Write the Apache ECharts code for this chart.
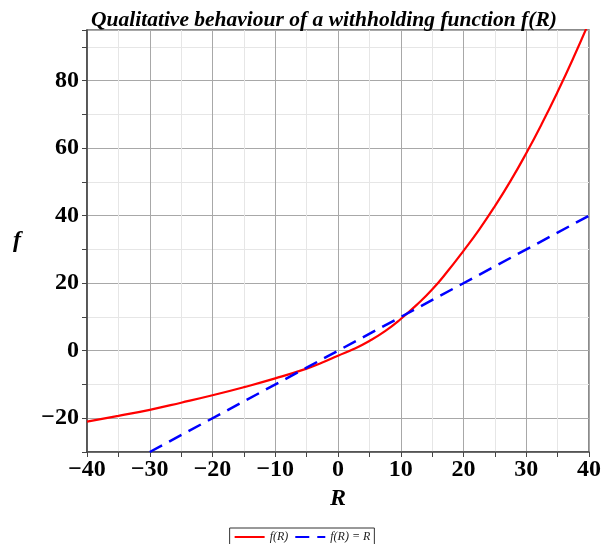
<!DOCTYPE html>
<html><head><meta charset="utf-8">
<script src="https://cdn.jsdelivr.net/npm/echarts@6/dist/echarts.min.js"></script>
<style>html,body{margin:0;padding:0;background:#fff}#c{width:604px;height:544px}</style>
</head><body><div id="c"></div>
<script>
var fR = [-40,-35,-30,-25,-20,-15,-10,-5,-2.5,0,2.5,5,7.5,10,12.5,15,17.5,20,22.5,25,27.5,30,32.5,35,37.5,40];
var fValues = [-21.0,-19.3,-17.5,-15.4,-13.2,-10.8,-8.2,-5.3,-3.5,-1.5,0.5,2.9,5.8,9.4,13.5,18.1,23.6,29.6,35.9,42.8,50.3,58.5,67.3,76.7,86.7,97.3];
var idR = [-30,40];
var idValues = [-30,40];
var titleText = 'Qualitative behaviour of a withholding function f(R)';
var serif = '"Liberation Serif","Times New Roman",serif';

function fmtNum(v){ return v < 0 ? '\u2212' + Math.abs(v) : String(v); }

var chart = echarts.init(document.getElementById('c'));
chart.setOption({
  animation:false,
  title:{text:titleText,left:86,top:4,textStyle:{fontFamily:serif,fontStyle:'italic',fontWeight:'bold',fontSize:21.5,color:'#000'}},
  grid:{left:87,right:13,top:30,bottom:92,show:true,borderColor:'#666',borderWidth:1.5},
  legend:{bottom:-5,left:'center',data:['f(R)','f(R) = R'],orient:'horizontal',
    borderColor:'#333',borderWidth:1,padding:[3,4,6,4],itemGap:6,itemWidth:30,itemHeight:8,
    itemStyle:{opacity:0},
    textStyle:{fontFamily:serif,fontStyle:'italic',fontSize:12,color:'#222'}},
  xAxis:{type:'value',min:-40,max:40,interval:5,
    name:'R',nameLocation:'middle',nameGap:28,
    nameTextStyle:{fontFamily:serif,fontStyle:'italic',fontWeight:'bold',fontSize:24,color:'#000'},
    axisLine:{show:true,onZero:false,lineStyle:{color:'#444',width:1.5}},
    axisTick:{show:true,length:5,lineStyle:{color:'#444'}},
    axisLabel:{margin:6,fontFamily:serif,fontWeight:'bold',fontSize:24,color:'#000',
      formatter:function(v){return v%10===0?fmtNum(v):'';}},
    splitLine:{show:true,lineStyle:{color:['#a8a8a8','#e6e6e6'],width:1}}},
  yAxis:{type:'value',min:-30,max:95,interval:10,
    name:'f',nameLocation:'middle',nameGap:66,nameRotate:0,
    nameTextStyle:{fontFamily:serif,fontStyle:'italic',fontWeight:'bold',fontSize:24,color:'#000'},
    axisLine:{show:true,onZero:false,lineStyle:{color:'#444',width:1.5}},
    axisTick:{show:true,length:5,lineStyle:{color:'#444'}},
    axisLabel:{margin:8,fontFamily:serif,fontWeight:'bold',fontSize:24,color:'#000',
      formatter:function(v){return (v%20===0)?fmtNum(v):'';}},
    splitLine:{show:true,lineStyle:{color:['#e6e6e6','#a8a8a8'],width:1}}},
  series:[
    {name:'f(R)',type:'line',smooth:true,showSymbol:false,symbol:'none',clip:true,
      data:fR.map(function(r,i){return [r,fValues[i]];}),
      lineStyle:{color:'#ff0000',width:2.2},itemStyle:{color:'#ff0000'}},
    {name:'f(R) = R',type:'line',showSymbol:false,symbol:'none',
      data:idR.map(function(r,i){return [r,idValues[i]];}),
      lineStyle:{color:'#0000ff',width:2.5,type:[14,8]},itemStyle:{color:'#0000ff'}}
  ]
});
</script></body></html>
